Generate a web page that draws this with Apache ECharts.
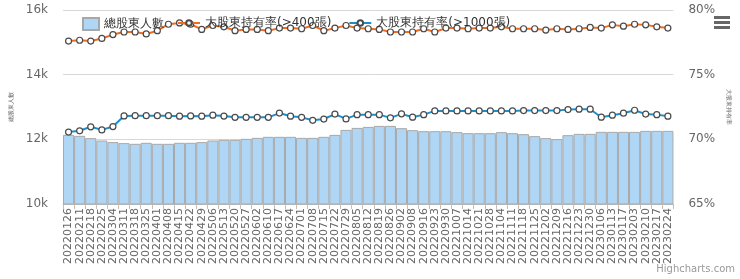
<!DOCTYPE html>
<head>
    <meta charset="utf-8"/>
    <style>
        html,body { height:100%; width:100%; margin:0; padding:0; background:#fff; }
    </style>
</head>
<body>
<div id="main" style="width:740px;height:279px"></div>

<script src="https://cdn.jsdelivr.net/npm/echarts@6/dist/echarts.min.js"></script>
<script type="text/javascript">

// 日期
var dates = ['20220126','20220211','20220218','20220225','20220304','20220311','20220318','20220325',
    '20220401','20220408','20220415','20220422','20220429','20220506','20220513','20220520','20220527',
    '20220602','20220610','20220617','20220624','20220701','20220708','20220715','20220722','20220729',
    '20220805','20220812','20220819','20220826','20220902','20220908','20220916','20220923','20220930',
    '20221007','20221014','20221021','20221028','20221104','20221111','20221118','20221125',
    '20221202','20221209','20221216','20221223','20221230',
    '20230106','20230113','20230117','20230203','20230210','20230217','20230224'];

// 總股東人數
var holders = [12138,12108,12037,11963,11914,11883,11861,11892,11861,11861,11892,11892,11914,11963,
    11985,11985,12015,12046,12077,12077,12077,12046,12046,12077,12138,12293,12354,12385,12416,12416,
    12345,12283,12252,12252,12252,12222,12191,12191,12191,12222,12191,12160,12099,12037,12006,12129,
    12169,12169,12231,12231,12231,12231,12262,12262,12262];

// 大股東持有率(>400張)
var big400 = [77.6,77.66,77.6,77.8,78.1,78.3,78.3,78.15,78.4,78.9,79.0,78.9,78.5,78.8,78.7,78.4,
    78.5,78.5,78.4,78.6,78.6,78.55,78.8,78.4,78.6,78.8,78.6,78.55,78.5,78.3,78.3,78.3,78.55,78.3,
    78.6,78.6,78.55,78.6,78.6,78.7,78.55,78.55,78.55,78.45,78.55,78.5,78.55,78.65,78.6,78.85,78.75,
    78.9,78.85,78.7,78.6];

// 大股東持有率(>1000張)
var big1000 = [70.56,70.66,70.97,70.73,70.99,71.81,71.83,71.83,71.83,71.83,71.79,71.81,71.79,71.87,
    71.8,71.7,71.7,71.7,71.7,72.03,71.79,71.7,71.47,71.57,71.95,71.58,71.91,71.91,71.91,71.66,71.97,
    71.71,71.91,72.2,72.2,72.2,72.2,72.2,72.2,72.2,72.2,72.22,72.22,72.22,72.22,72.3,72.33,72.33,
    71.71,71.87,72.02,72.25,71.95,71.91,71.79];

var leftTicks = [10000,16000,2000];
var rightTicks = [65,80,5];

var myChart = echarts.init(document.getElementById('main'));

var markerStyle = { color:'#fff', borderColor:'#4a4a4a', borderWidth:1.2 };

var option = {
    animation:false,
    textStyle:{ fontFamily:'DejaVu Sans' },
    legend:[
        {
            left:82, top:17, padding:0,
            itemWidth:16, itemHeight:12,
            textStyle:{ fontSize:12, color:'#333' },
            data:[ { name:'總股東人數', icon:'rect' } ]
        },
        {
            left:177, top:17, padding:0,
            itemWidth:22, itemHeight:7, itemGap:17,
            textStyle:{ fontSize:12, color:'#333', lineHeight:12 },
            data:[ '大股東持有率(>400張)', '大股東持有率(>1000張)' ]
        }
    ],
    grid:{ left:57, right:57, top:10, bottom:75 },
    xAxis:{
        type:'category',
        data:dates,
        axisLine:{ lineStyle:{ color:'#c0c0c0' } },
        axisTick:{ show:true, alignWithLabel:false, length:5, lineStyle:{ color:'#c0c0c0' } },
        axisLabel:{ interval:0, rotate:90, fontSize:11, color:'#666', margin:4 }
    },
    yAxis:[
        {
            type:'value',
            min:leftTicks[0], max:leftTicks[1], interval:leftTicks[2],
            name:'總股東人數', nameLocation:'middle', nameRotate:90, nameGap:49,
            nameTextStyle:{ fontSize:6, color:'#666' },
            axisLabel:{ fontSize:12, color:'#666', margin:15,
                formatter:function(v){ return (v/1000)+'k'; } },
            splitLine:{ lineStyle:{ color:'#d8d8d8' } }
        },
        {
            type:'value',
            min:rightTicks[0], max:rightTicks[1], interval:rightTicks[2],
            name:'大股東持有率', nameLocation:'middle', nameRotate:-90, nameGap:50,
            nameTextStyle:{ fontSize:6, color:'#666' },
            axisLabel:{ fontSize:12, color:'#666', margin:15, formatter:'{value}%' },
            splitLine:{ show:false }
        }
    ],
    series:[
        {
            name:'總股東人數',
            type:'bar',
            yAxisIndex:0,
            barCategoryGap:'0%',
            itemStyle:{ color:'#b0d6f5', borderColor:'#a8a8a8', borderWidth:1 },
            data:holders
        },
        {
            name:'大股東持有率(>400張)',
            type:'line',
            yAxisIndex:1,
            symbol:'circle', symbolSize:6,
            lineStyle:{ color:'#f26a1d', width:2 },
            itemStyle:markerStyle,
            data:big400
        },
        {
            name:'大股東持有率(>1000張)',
            type:'line',
            yAxisIndex:1,
            symbol:'circle', symbolSize:6,
            lineStyle:{ color:'#1b8fcc', width:2 },
            itemStyle:markerStyle,
            data:big1000
        }
    ],
    graphic:[
        { type:'rect', left:714, top:16, shape:{ width:16, height:3 }, style:{ fill:'#666' } },
        { type:'rect', left:714, top:21, shape:{ width:16, height:3 }, style:{ fill:'#666' } },
        { type:'rect', left:714, top:26, shape:{ width:16, height:3 }, style:{ fill:'#666' } },
        { type:'text', right:5, bottom:5, style:{ text:'Highcharts.com', fontSize:10, fill:'#999', fontFamily:'DejaVu Sans' } }
    ]
};

myChart.setOption(option);
</script>
</body>
